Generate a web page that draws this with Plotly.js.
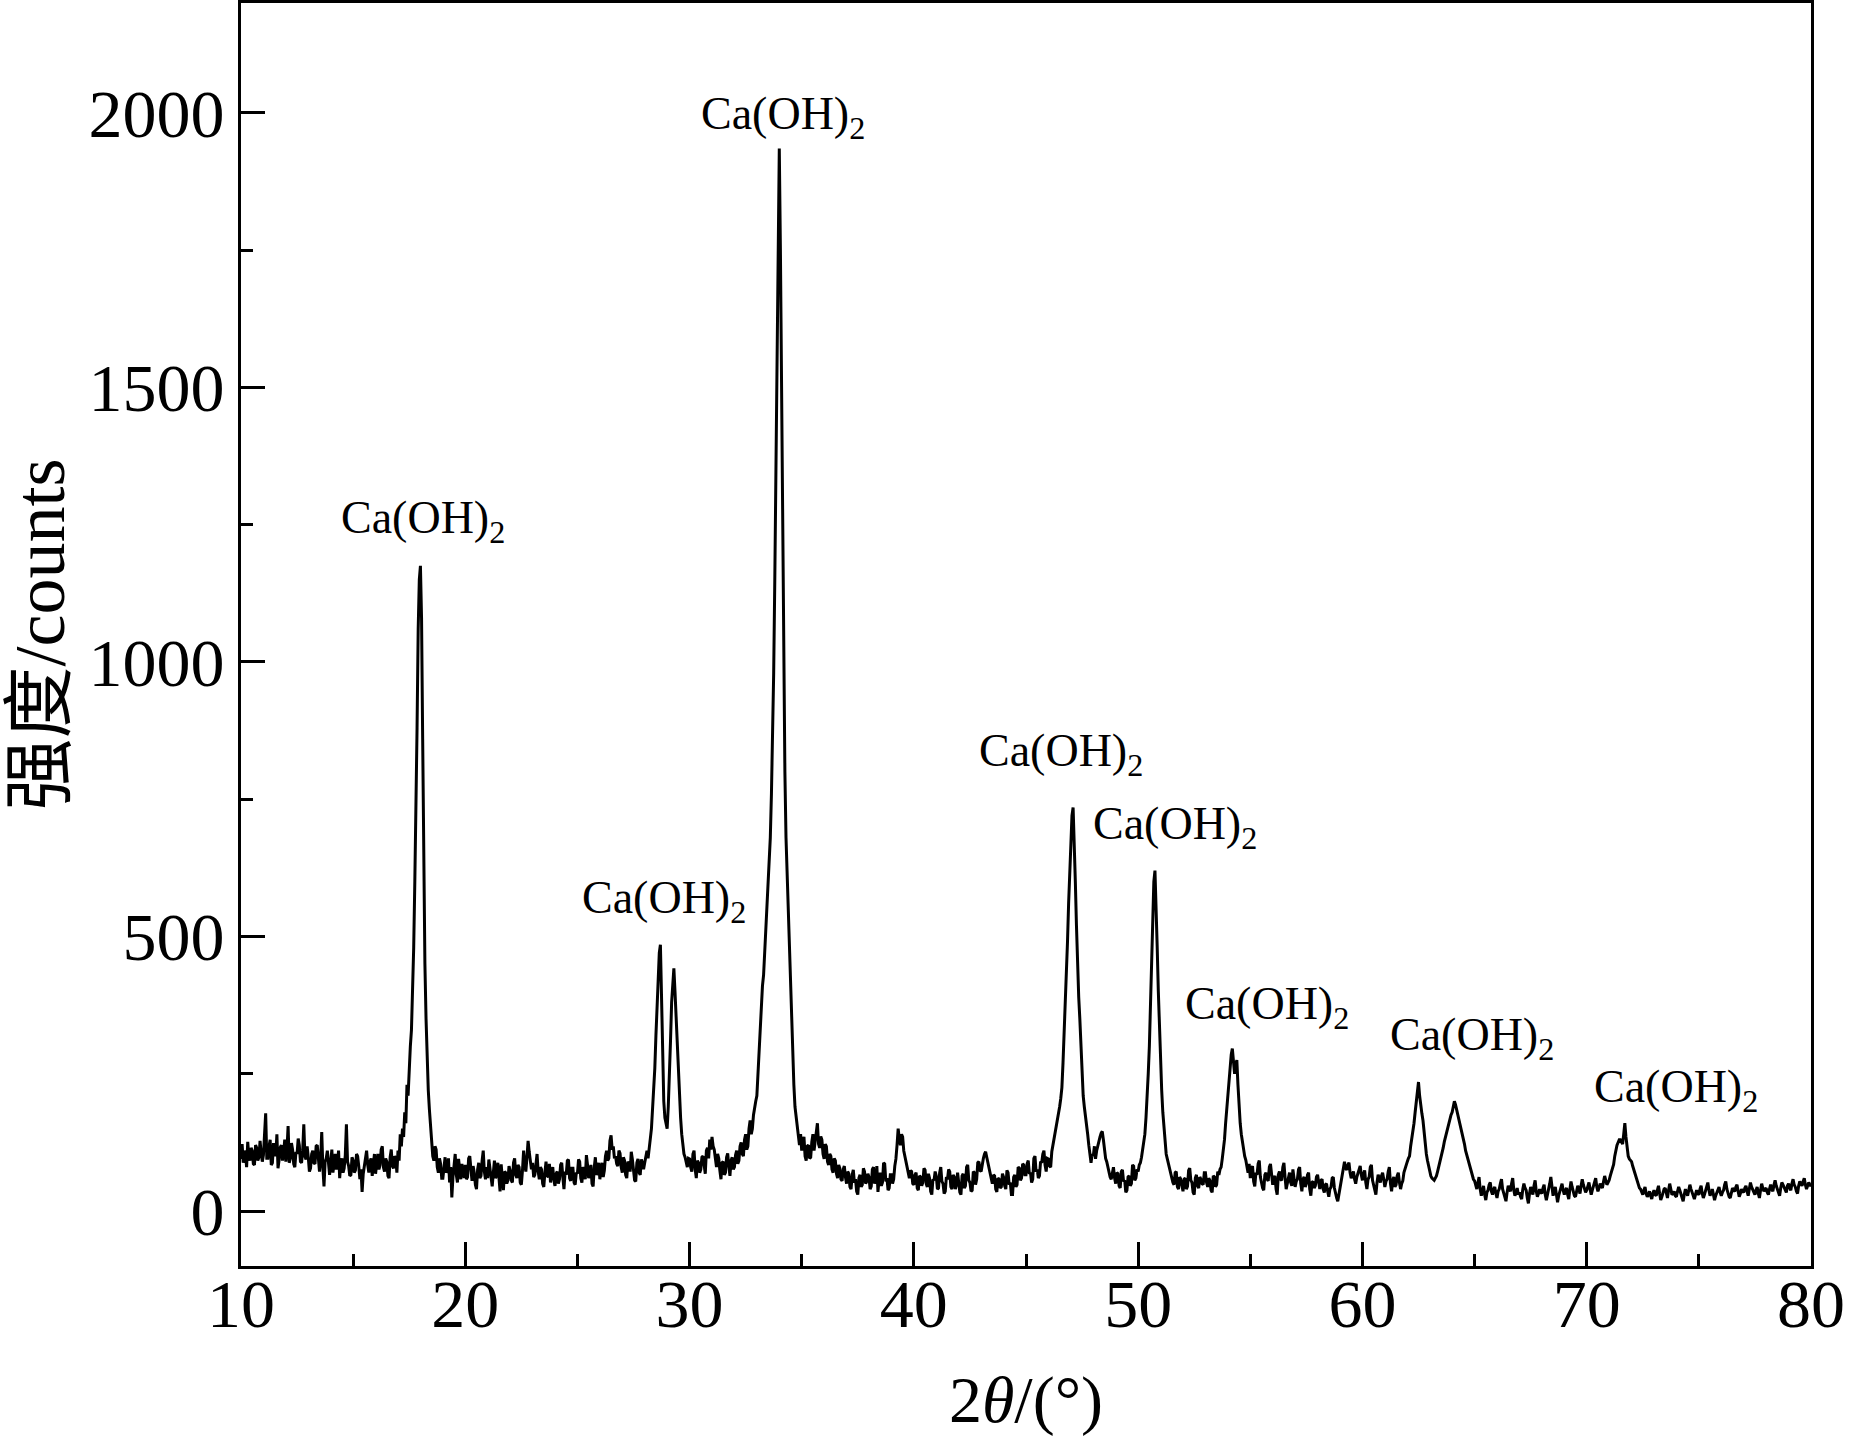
<!DOCTYPE html>
<html>
<head>
<meta charset="utf-8">
<script src="https://cdn.plot.ly/plotly-3.0.1.min.js"></script>
<style>html,body{margin:0;padding:0;background:#fff;}#chart{width:1852px;height:1437px;}</style>
</head>
<body>
<div id="chart"></div>
<script>
// Scan start and step (2θ, degrees)
const twoThetaStart = 10;
const twoThetaStep = 0.05;

// Intensity (counts), one value per 0.05° from 10.00° to 80.00°
const intensity = [
  /*10*/ 95,122,88,110,104,80,126,98,92,115,110,86,84,120,115,92,98,128,105,90,
  /*11*/ 102,135,178,96,96,118,130,84,88,124,112,100,140,78,94,116,120,92,106,130,
  /*12*/ 90,112,155,88,96,124,112,86,80,108,104,132,120,90,88,110,158,100,94,118,
  /*13*/ 98,72,78,104,110,88,86,118,120,92,72,96,144,80,45,90,96,110,82,66,
  /*14*/ 88,112,70,94,104,76,84,110,60,88,96,70,78,102,158,90,82,64,66,98,
  /*15*/ 92,70,74,104,100,82,58,76,35,68,86,102,110,84,70,90,96,64,80,104,
  /*16*/ 68,92,104,76,84,112,118,80,72,96,90,64,60,98,112,82,78,100,96,70,
  /*17*/ 110,92,140,118,150,135,180,160,230,210,270,300,330,400,480,600,720,880,1060,1150,
  /*18*/ 1175,1080,860,640,450,350,265,220,185,150,115,100,92,118,112,80,70,96,86,60,
  /*19*/ 60,88,98,70,74,96,52,80,25,62,80,104,66,52,95,78,58,86,72,60,
  /*20*/ 84,58,62,96,100,70,55,82,70,48,40,76,88,60,64,92,110,72,58,80,
  /*21*/ 60,94,78,52,45,70,92,60,66,88,50,36,85,64,38,72,70,50,56,82,
  /*22*/ 74,56,52,88,96,66,60,84,80,52,48,74,110,86,72,98,128,108,95,76,
  /*23*/ 88,62,66,94,104,72,58,80,76,50,44,70,90,64,62,86,52,74,80,56,
  /*24*/ 46,68,72,50,58,84,88,62,40,72,66,92,94,60,55,78,78,52,48,70,
  /*25*/ 68,94,90,60,52,80,76,58,102,84,60,72,84,50,45,80,98,66,70,88,
  /*26*/ 58,76,88,62,74,100,110,92,96,128,138,112,118,96,100,86,82,110,105,80,
  /*27*/ 70,98,92,66,60,90,86,72,108,94,74,56,54,88,95,70,66,94,88,76,
  /*28*/ 88,104,110,96,120,132,150,180,215,260,320,380,420,470,485,400,260,200,170,155,
  /*29*/ 150,190,240,310,380,420,442,400,350,290,240,200,170,140,118,104,98,86,80,96,
  /*30*/ 95,80,72,104,110,76,60,92,88,70,76,98,100,84,68,110,115,96,130,112,
  /*31*/ 135,118,112,96,80,104,96,74,58,88,90,66,70,98,105,82,64,92,98,76,
  /*32*/ 80,102,110,86,92,118,125,104,100,130,140,112,118,150,165,140,150,175,190,200,
  /*33*/ 210,250,300,340,380,410,430,470,500,540,580,630,680,760,850,980,1150,1380,1600,1800,
  /*34*/ 1935,1750,1500,1200,950,800,680,610,560,490,430,360,290,230,190,170,150,135,120,140,
  /*35*/ 110,128,135,100,92,118,120,96,98,126,140,110,125,150,160,122,115,136,130,104,
  /*36*/ 95,122,118,90,84,104,100,76,70,96,92,68,60,84,78,58,55,76,82,62,
  /*37*/ 50,72,68,44,40,66,75,52,58,36,30,60,66,44,48,78,72,50,54,68,
  /*38*/ 62,40,45,76,80,50,56,82,35,58,70,46,52,88,86,54,60,38,42,66,
  /*39*/ 66,50,58,82,95,120,150,132,120,140,135,110,100,88,80,64,60,74,72,50,
  /*40*/ 48,66,70,42,38,64,62,46,52,78,75,50,44,68,60,36,30,58,56,72,
  /*41*/ 64,40,42,70,80,54,50,32,36,62,58,76,72,44,40,66,62,40,48,70,
  /*42*/ 55,34,30,64,68,42,46,80,84,56,52,36,38,72,70,48,58,88,90,74,
  /*43*/ 72,88,96,104,108,98,88,76,70,58,50,66,64,40,35,60,58,42,44,68,
  /*44*/ 62,46,40,74,70,48,52,30,30,62,66,44,48,80,78,56,60,86,84,66,
  /*45*/ 66,86,92,68,70,52,58,96,100,72,76,60,64,90,88,104,110,84,72,96,
  /*46*/ 95,82,80,108,120,130,140,150,160,172,190,205,225,270,320,370,420,490,560,620,
  /*47*/ 680,720,735,680,600,520,440,390,350,290,240,210,190,175,160,140,120,100,88,104,
  /*48*/ 100,118,95,110,120,128,135,142,145,130,110,96,90,78,70,62,58,74,80,60,
  /*49*/ 50,70,68,46,42,72,75,54,56,34,38,62,64,46,50,84,82,56,60,76,
  /*50*/ 72,84,88,98,110,125,140,170,200,250,300,380,450,540,600,620,560,480,400,330,
  /*51*/ 270,220,180,150,125,104,95,86,80,66,62,52,48,70,72,44,40,62,58,42,
  /*52*/ 36,58,60,40,45,74,78,56,52,34,30,60,66,46,42,62,58,50,48,70,
  /*53*/ 70,52,44,60,56,38,34,64,62,44,48,72,66,76,80,95,110,130,160,185,
  /*54*/ 215,240,265,285,296,270,250,265,275,230,190,160,140,125,112,100,93,80,70,86,
  /*55*/ 60,78,82,54,45,70,66,86,92,62,50,42,38,66,70,58,55,80,86,64,
  /*56*/ 48,60,64,40,30,66,72,58,56,80,88,62,40,50,60,70,52,46,76,62,
  /*57*/ 44,54,58,76,80,50,36,58,62,44,50,66,70,40,28,52,54,42,46,62,
  /*58*/ 66,52,40,56,58,40,34,48,50,36,26,40,44,60,62,42,30,24,18,30,
  /*59*/ 40,52,64,80,90,78,75,84,88,70,60,66,72,58,50,62,68,76,82,66,
  /*60*/ 56,68,74,52,40,58,62,80,84,56,48,40,30,52,66,60,52,64,70,58,
  /*61*/ 44,54,58,72,80,50,36,56,62,44,48,64,70,52,40,50,55,70,78,84,
  /*62*/ 90,96,100,118,130,145,160,180,195,215,235,210,190,178,165,140,120,104,92,80,
  /*63*/ 72,64,60,58,56,60,64,72,80,90,100,108,115,126,135,142,150,160,168,175,
  /*64*/ 180,192,200,194,185,178,170,162,155,145,135,122,110,102,95,88,80,70,62,58,
  /*65*/ 55,44,40,52,62,40,28,36,46,30,20,34,38,48,52,36,30,40,44,32,
  /*66*/ 24,36,40,50,58,40,32,24,18,34,46,40,36,50,60,38,28,34,42,30,
  /*67*/ 34,26,22,40,50,42,38,24,14,32,44,36,30,46,56,36,26,32,40,34,
  /*68*/ 32,42,48,30,20,30,38,50,62,40,28,36,44,30,16,28,36,44,50,38,
  /*69*/ 30,38,42,30,22,40,54,44,36,28,26,38,46,40,32,46,58,48,40,34,
  /*70*/ 38,46,52,40,30,38,46,56,60,44,36,42,50,46,42,54,64,56,48,52,
  /*71*/ 56,64,70,78,85,100,115,120,125,130,130,124,122,140,160,135,110,100,95,92,
  /*72*/ 90,82,75,66,60,52,48,42,40,34,30,38,44,32,26,30,36,28,22,32,
  /*73*/ 38,30,28,38,46,32,20,26,34,40,42,30,24,38,50,40,30,32,36,28,
  /*74*/ 26,36,44,38,32,22,18,30,40,34,28,38,48,40,34,26,22,30,38,32,
  /*75*/ 30,40,46,32,24,30,36,46,52,38,28,34,40,30,20,28,34,40,44,34,
  /*76*/ 28,34,38,48,54,40,32,26,24,34,42,38,36,44,48,36,26,32,40,36,
  /*77*/ 34,42,46,36,28,40,52,44,38,32,30,38,44,32,24,38,50,42,36,40,
  /*78*/ 42,34,30,40,48,40,36,48,56,46,40,32,28,42,52,48,44,38,34,46,
  /*79*/ 50,42,38,50,58,48,44,36,32,46,54,50,46,54,60,48,40,46,52,48,
  /*80*/ 45
];

// Peak labels
const peakLabelText = 'Ca(OH)<sub>2</sub>';
const peakLabelX = [18.1, 28.84, 34.16, 46.58, 51.63, 55.74, 64.88, 73.98];
const peakLabelY = [1256, 565, 1993, 832, 699, 371, 316, 220];

// Axis ticks
const xTickVals = [10, 20, 30, 40, 50, 60, 70, 80];
const yTickVals = [0, 500, 1000, 1500, 2000];

const serif = '"Liberation Serif", "Times New Roman", serif';

const trace = {
  type: 'scatter',
  mode: 'lines',
  x0: twoThetaStart,
  dx: twoThetaStep,
  y: intensity,
  line: {color: '#000', width: 3},
  hoverinfo: 'skip'
};

const annotations = peakLabelX.map((x, i) => ({
  x: x, y: peakLabelY[i], xref: 'x', yref: 'y',
  text: peakLabelText, showarrow: false,
  font: {family: serif, size: 46, color: '#000'}
}));

const axisCommon = {
  showline: true, mirror: true, linecolor: '#000', linewidth: 3,
  ticks: 'inside', ticklen: 24, tickwidth: 3, tickcolor: '#000',
  showgrid: false, zeroline: false,
  tickfont: {family: serif, size: 68, color: '#000'}
};

const layout = {
  width: 1852, height: 1437,
  margin: {l: 241, r: 41, t: 3, b: 171},
  paper_bgcolor: '#fff', plot_bgcolor: '#fff',
  showlegend: false,
  xaxis: Object.assign({}, axisCommon, {
    range: [10, 80], tickvals: xTickVals,
    ticklabelstandoff: -24,
    minor: {dtick: 5, tick0: 0, ticks: 'inside', ticklen: 12, tickwidth: 3, tickcolor: '#000', showgrid: false},
    title: {text: '2<i>θ</i>/(°)', font: {family: serif, size: 66, color: '#000'}, standoff: 40}
  }),
  yaxis: Object.assign({}, axisCommon, {
    range: [-100, 2200], tickvals: yTickVals,
    minor: {dtick: 250, tick0: 0, ticks: 'inside', ticklen: 12, tickwidth: 3, tickcolor: '#000', showgrid: false},
    title: {text: '强度/counts', font: {family: '"Liberation Serif", "Noto Sans CJK SC", serif', size: 72, color: '#000'}, standoff: 12}
  }),
  annotations: annotations
};

Plotly.newPlot('chart', [trace], layout, {staticPlot: true, displayModeBar: false});
</script>
</body>
</html>
